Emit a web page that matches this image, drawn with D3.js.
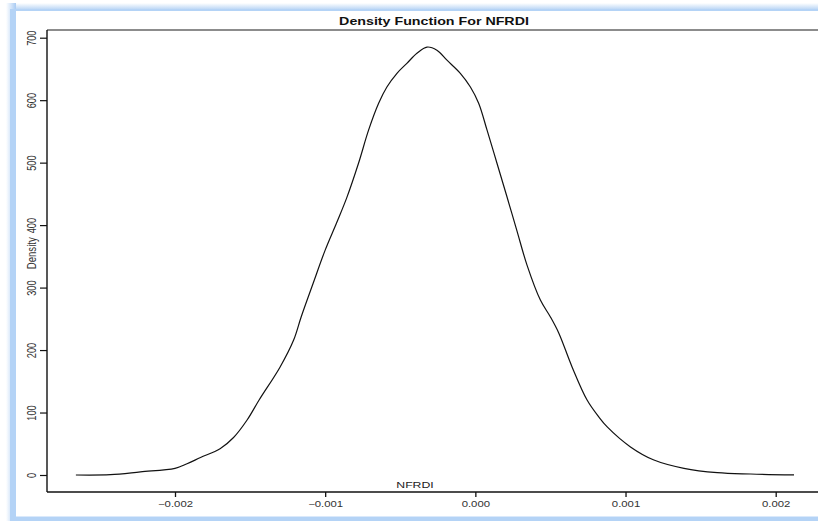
<!DOCTYPE html>
<html><head><meta charset="utf-8">
<script src="https://cdn.jsdelivr.net/npm/d3@7"></script>
<style>
html,body{margin:0;padding:0;background:#fff;}
svg{display:block;font-family:"Liberation Sans",Arial,Helvetica,sans-serif;}
</style></head>
<body>
<svg id="chart" width="818" height="521"></svg>
<script>
// ---- data ----
const xValues = [-0.00266,-0.00243,-0.00223,-0.00200,-0.00192,-0.00183,-0.00170,-0.00161,-0.00152,-0.00144,
  -0.00130,-0.00121,-0.00116,-0.00108,-0.00100,-0.000925,-0.000856,-0.000778,-0.000711,
  -0.000644,-0.000589,-0.000522,-0.000456,-0.000389,-0.000322,-0.000256,-0.000189,-0.000100,-0.000033,
  0.000022,0.000078,0.000144,0.000211,0.000278,0.000344,0.000433,0.000500,0.000556,0.000644,
  0.000744,0.000822,0.000878,0.001033,0.001189,0.001389,0.001611,0.001833,0.002122];
const densityValues = [0,0.5,5,10.7,18,28,42,60,88,120,
  173,216,253,307,360,403,444,499,552,
  595,621,643,659,675,685,680,664,643,621,
  595,552,499,445,390,336,280,253,227,173,
  120,93,77,45,24,10.7,3.7,1.6,0.3];
const xTicks = [-0.002,-0.001,0,0.001,0.002];
const yTicks = [0,100,200,300,400,500,600,700];
const title = "Density Function For NFRDI";
const xLabel = "NFRDI";
const yLabel = "Density";

(function(){
const svg = d3.select("#chart");
const W = 818, H = 521;
const SX = 1.32; // horizontal stretch of glyphs in the reference

// ---- frame / border glow ----
const defs = svg.append("defs");
const g1 = defs.append("linearGradient").attr("id","topGlow").attr("x1",0).attr("y1",0).attr("x2",0).attr("y2",1);
g1.append("stop").attr("offset","0%").attr("stop-color","#ffffff");
g1.append("stop").attr("offset","100%").attr("stop-color","#a9cbf3");
const g2 = defs.append("linearGradient").attr("id","leftGlow").attr("x1",0).attr("y1",0).attr("x2",1).attr("y2",0);
g2.append("stop").attr("offset","0%").attr("stop-color","#ffffff");
g2.append("stop").attr("offset","100%").attr("stop-color","#a9cbf3");

svg.append("rect").attr("x",0).attr("y",0).attr("width",W).attr("height",H).attr("fill","#fff");
svg.append("rect").attr("x",6).attr("y",3).attr("width",W).attr("height",8).attr("fill","url(#topGlow)");
svg.append("rect").attr("x",6).attr("y",3).attr("width",10).attr("height",H).attr("fill","url(#leftGlow)");
svg.append("rect").attr("x",10).attr("y",9).attr("width",W).attr("height",H).attr("fill","#b4d3f6");
svg.append("rect").attr("x",16).attr("y",11).attr("width",W).attr("height",505.5).attr("fill","#fff");

// ---- scales ----
const x = d3.scaleLinear().domain([-0.002, 0.002]).range([175, 775.7]);
const y = d3.scaleLinear().domain([0, 700]).range([475, 37.7]);
const pLeft = 47, pTop = 30, pBottom = 492, pRight = W;

// frame lines
svg.append("line").attr("x1",pLeft).attr("x2",pRight).attr("y1",pTop).attr("y2",pTop)
  .attr("stroke","#666").attr("stroke-width",1.3);
svg.append("line").attr("x1",pLeft).attr("x2",pLeft).attr("y1",pTop).attr("y2",pBottom)
  .attr("stroke","#111").attr("stroke-width",1.4);
svg.append("line").attr("x1",pLeft).attr("x2",pRight).attr("y1",pBottom).attr("y2",pBottom)
  .attr("stroke","#111").attr("stroke-width",1.6);

// ---- x axis ----
const xAxis = svg.append("g").attr("transform",`translate(0,${pBottom})`)
  .call(d3.axisBottom(x).tickValues(xTicks).tickSize(5).tickPadding(0).tickFormat(d3.format(".3f")));
xAxis.select(".domain").remove();
xAxis.selectAll(".tick line").attr("stroke","#111").attr("stroke-width",1.3);
xAxis.selectAll(".tick text")
  .attr("y",null).attr("dy",null)
  .attr("transform","translate(0,15) scale(" + SX + ",1)")
  .attr("fill","#333").style("font-size","8.6px").style("font-family","Liberation Sans, Arial, sans-serif");

// ---- y axis ----
const yAxis = svg.append("g").attr("transform",`translate(${pLeft},0)`)
  .call(d3.axisLeft(y).tickValues(yTicks).tickSize(7).tickPadding(0).tickFormat(d3.format("d")));
yAxis.select(".domain").remove();
yAxis.selectAll(".tick line").attr("stroke","#111").attr("stroke-width",1.2);
yAxis.selectAll(".tick text")
  .attr("x",null).attr("dy",null).attr("text-anchor","middle")
  .attr("transform","translate(-11.5,0) scale(" + SX + ",1) rotate(-90)")
  .attr("fill","#333").style("font-size","9.2px").style("font-family","Liberation Sans, Arial, sans-serif");

// y label
svg.append("text").attr("text-anchor","middle")
  .attr("transform",`translate(35.5,${y(355)}) scale(${SX},1) rotate(-90)`)
  .attr("fill","#333").style("font-size","9.6px").text(yLabel);

// x label inside plot
svg.append("text").attr("text-anchor","middle")
  .attr("transform",`translate(415,488.3) scale(${SX},1)`)
  .attr("fill","#222").style("font-size","9.3px").text(xLabel);

// title
svg.append("text").attr("text-anchor","middle")
  .attr("transform",`translate(434,25) scale(${SX},1)`)
  .attr("fill","#111").style("font-size","10.8px").style("font-weight","bold").text(title);

// ---- density curve ----
const pts = xValues.map((v,i)=>[v, densityValues[i]]);
const line = d3.line().x(d=>x(d[0])).y(d=>y(d[1])).curve(d3.curveCatmullRom.alpha(0.5));
svg.append("path").datum(pts).attr("d",line)
  .attr("fill","none").attr("stroke","#111").attr("stroke-width",1.2);
})();
</script>
</body></html>
